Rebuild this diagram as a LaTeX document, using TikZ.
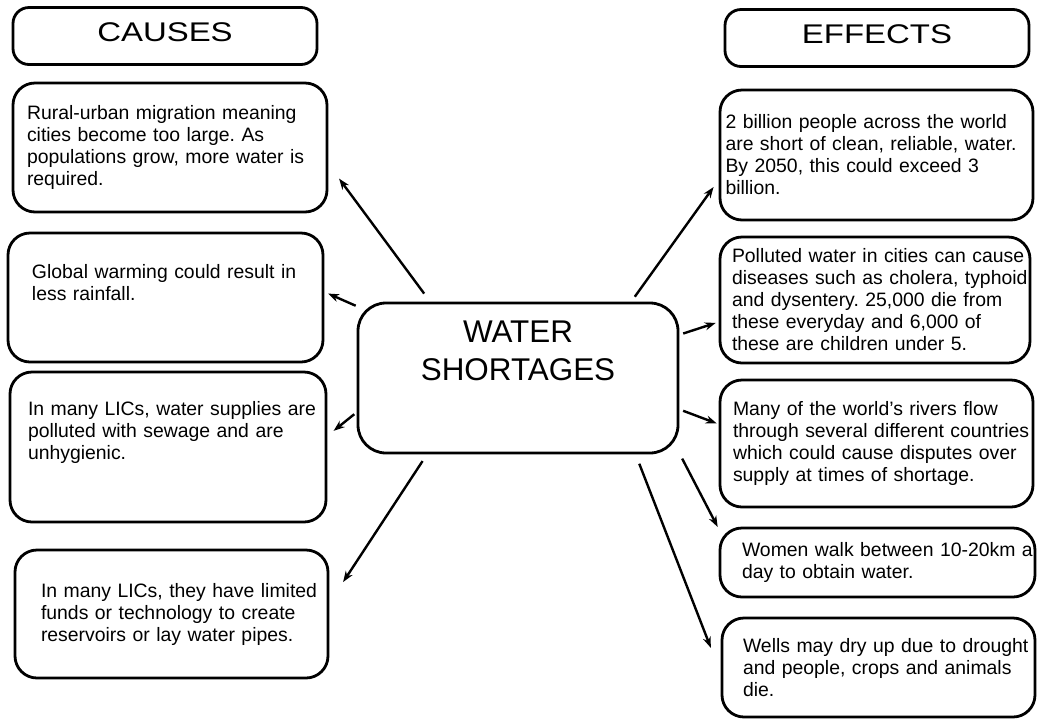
\documentclass[tikz,border=0pt]{standalone}
\usepackage{fontspec}
\setmainfont{Liberation Sans}
\newfontfamily\headfont[FakeStretch=1.22]{Liberation Sans}
\usepackage{tikz}
\usetikzlibrary{arrows.meta}
\frenchspacing
\tikzset{
  headbox/.style={
    rectangle, rounded corners=8pt, draw=black, line width=1.4pt,
    minimum width=152pt, minimum height=28.5pt, text depth=4pt,
    font=\headfont\fontsize{13.5}{16}\selectfont
  },
  hubbox/.style={
    rectangle, rounded corners=14pt, draw=black, line width=1.4pt,
    align=center, minimum width=160pt, minimum height=75pt,
    font=\fontsize{15.7}{19}\selectfont
  },
  notebox/.style={
    rectangle, rounded corners=11pt, draw=black, line width=1.4pt,
    align=left, inner xsep=0pt, inner ysep=0pt,
    font=\fontsize{9.7}{11}\selectfont
  },
  arrow/.style={-{Stealth[length=5.5pt,width=4pt]}, line width=1.2pt, draw=black}
}

\begin{document}
\begin{tikzpicture}[x=0.5pt, y=-0.5pt]
\useasboundingbox (0,0) rectangle (1040,719);

\node[headbox] (causes) at (165,36) {CAUSES};
\node[headbox] (effects) at (877,38) {EFFECTS};

\node[hubbox] (hub) at (518,378) {WATER\\SHORTAGES\\[8pt]\mbox{}};

% causes
\node[notebox, minimum width=157pt, minimum height=64.5pt, text width=143pt] (c1) at (170,147.5)
  {\mbox{Rural-urban migration meaning}\\\mbox{cities become too large. As}\\
   \mbox{populations grow, more water is}\\\mbox{required.}};
\node[notebox, minimum width=157.5pt, minimum height=64.5pt, text width=133.5pt] (c2) at (165.5,297.5)
  {\mbox{Global warming could result in}\\\mbox{less rainfall.}\\[4.5pt]\mbox{}};
\node[notebox, minimum width=158pt, minimum height=75pt, text width=140pt] (c3) at (168,447)
  {\mbox{In many LICs, water supplies are}\\\mbox{polluted with sewage and are}\\
   \mbox{unhygienic.}\\[6pt]\mbox{}};
\node[notebox, minimum width=156.5pt, minimum height=64pt, text width=130.5pt] (c4) at (171.5,614)
  {\mbox{In many LICs, they have limited}\\\mbox{funds or technology to create}\\
   \mbox{reservoirs or lay water pipes.}};

% effects
\node[notebox, minimum width=156.5pt, minimum height=65pt, text width=151pt] (e1) at (876.5,155)
  {\mbox{2 billion people across the world}\\\mbox{are short of clean, reliable, water.}\\
   \mbox{By 2050, this could exceed 3}\\\mbox{billion.}};
\node[notebox, minimum width=155pt, minimum height=63pt, text width=143pt] (e2) at (875,300)
  {\mbox{Polluted water in cities can cause}\\\mbox{diseases such as cholera, typhoid}\\
   \mbox{and dysentery. 25,000 die from}\\\mbox{these everyday and 6,000 of}\\
   \mbox{these are children under 5.}};
\node[notebox, minimum width=156.5pt, minimum height=63.5pt, text width=143.5pt] (e3) at (876.5,443.5)
  {\mbox{Many of the world's rivers flow}\\\mbox{through several different countries}\\
   \mbox{which could cause disputes over}\\\mbox{supply at times of shortage.}};
\node[notebox, minimum width=157.5pt, minimum height=34.5pt, text width=135.5pt] (e4) at (877.5,562.5)
  {\mbox{Women walk between 10-20km a}\\\mbox{day to obtain water.}};
\node[notebox, minimum width=156.5pt, minimum height=49.5pt, text width=135.5pt] (e5) at (878.5,667.5)
  {\mbox{Wells may dry up due to drought}\\\mbox{and people, crops and animals}\\
   \mbox{die.}};

\draw[arrow, shorten <=5pt, shorten >=9pt] (hub.139) -- (c1.-6.5);
\draw[arrow, shorten <=0.5pt, shorten >=2pt] (hub.156) -- (c2.2.7);
\draw[arrow, shorten <=1.5pt, shorten >=4pt] (hub.-168) -- (c3.4.3);
\draw[arrow, shorten <=4pt, shorten >=12.5pt] (hub.-140) -- (c4.4.7);
\draw[arrow, shorten <=3pt, shorten >=4.3pt] (hub.34) -- (e1.-171.6);
\draw[arrow, shorten <=2pt, shorten >=1.5pt] (hub.15.7) -- (e2.-172.3);
\draw[arrow, shorten <=2pt, shorten >=1pt] (hub.-11.5) -- (e3.173.5);
\draw[arrow, shorten <=3pt, shorten >=1pt] (hub.-25) -- (e4.168);
\draw[arrow, shorten <=5pt, shorten >=13.5pt] (hub.-33) -- (e5.-178.4);

\end{tikzpicture}
\end{document}
